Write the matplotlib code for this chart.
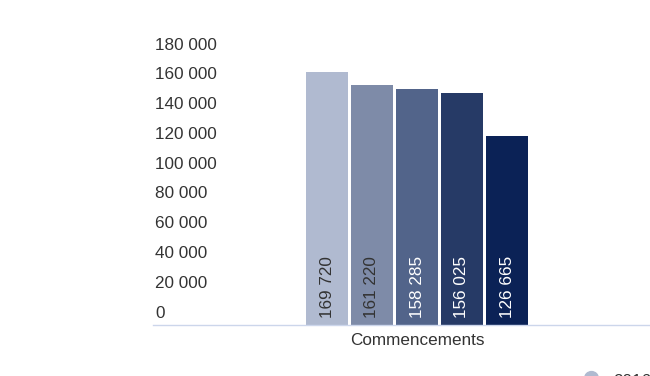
import matplotlib
matplotlib.use("Agg")
import matplotlib.pyplot as plt
from matplotlib.transforms import ScaledTranslation
from matplotlib.lines import Line2D

plt.rcParams['font.family'] = ['Liberation Sans', 'DejaVu Sans']

category = "Commencements"
series_names = ["2016", "2017", "2018", "2019", "2020"]
values = [169720, 161220, 158285, 156025, 126665]
colors = ["#b0bad0", "#7e8ba8", "#52648a", "#263a66", "#0b2256"]
label_colors = ["#333333", "#333333", "#ffffff", "#ffffff", "#ffffff"]
ytick_values = [0, 20000, 40000, 60000, 80000, 100000, 120000, 140000, 160000, 180000]

def fmt(v):
    return f"{v:,}".replace(",", " ")

W, H = 650, 376
FS = 12.3
fig = plt.figure(figsize=(W / 100, H / 100), dpi=100)
ax = fig.add_axes([153 / W, (H - 325) / H, 497 / W, 268 / H])

pos = list(range(len(values)))
ax.bar(pos, values, width=0.935, color=colors, edgecolor="none")

ax.set_ylim(0, 180000)
ax.set_xlim(2 - 264 / 45, 2 + 233 / 45)

for s in ["top", "right", "left"]:
    ax.spines[s].set_visible(False)
ax.spines["bottom"].set_color("#ccd6eb")
ax.spines["bottom"].set_linewidth(1)

ax.set_yticks([])
ax.set_xticks([2])
ax.set_xticklabels([category], fontsize=FS, color="#333333")
ax.tick_params(axis="x", length=0, pad=5.5)

off = ScaledTranslation(2 / 100, 12 / 100, fig.dpi_scale_trans)
for v in ytick_values:
    ax.text(0, v, fmt(v), transform=ax.get_yaxis_transform() + off,
            ha="left", va="center", fontsize=FS, color="#333333")

boff = ScaledTranslation(0, 7 / 100, fig.dpi_scale_trans)
for i, v in enumerate(values):
    ax.text(pos[i], 0, fmt(v), transform=ax.transData + boff, rotation=90,
            ha="center", va="bottom", fontsize=FS, color=label_colors[i])

# legend (partially cut at bottom, as in the reference)
fig.add_artist(Line2D([591 / W], [(H - 378) / H], marker="o", markersize=10,
                      color=colors[0], linestyle="none", transform=fig.transFigure))
fig.text(613 / W, (H - 381) / H, series_names[0], fontsize=FS, color="#333333",
         ha="left", va="center")

fig.savefig("out.png", dpi=100)
